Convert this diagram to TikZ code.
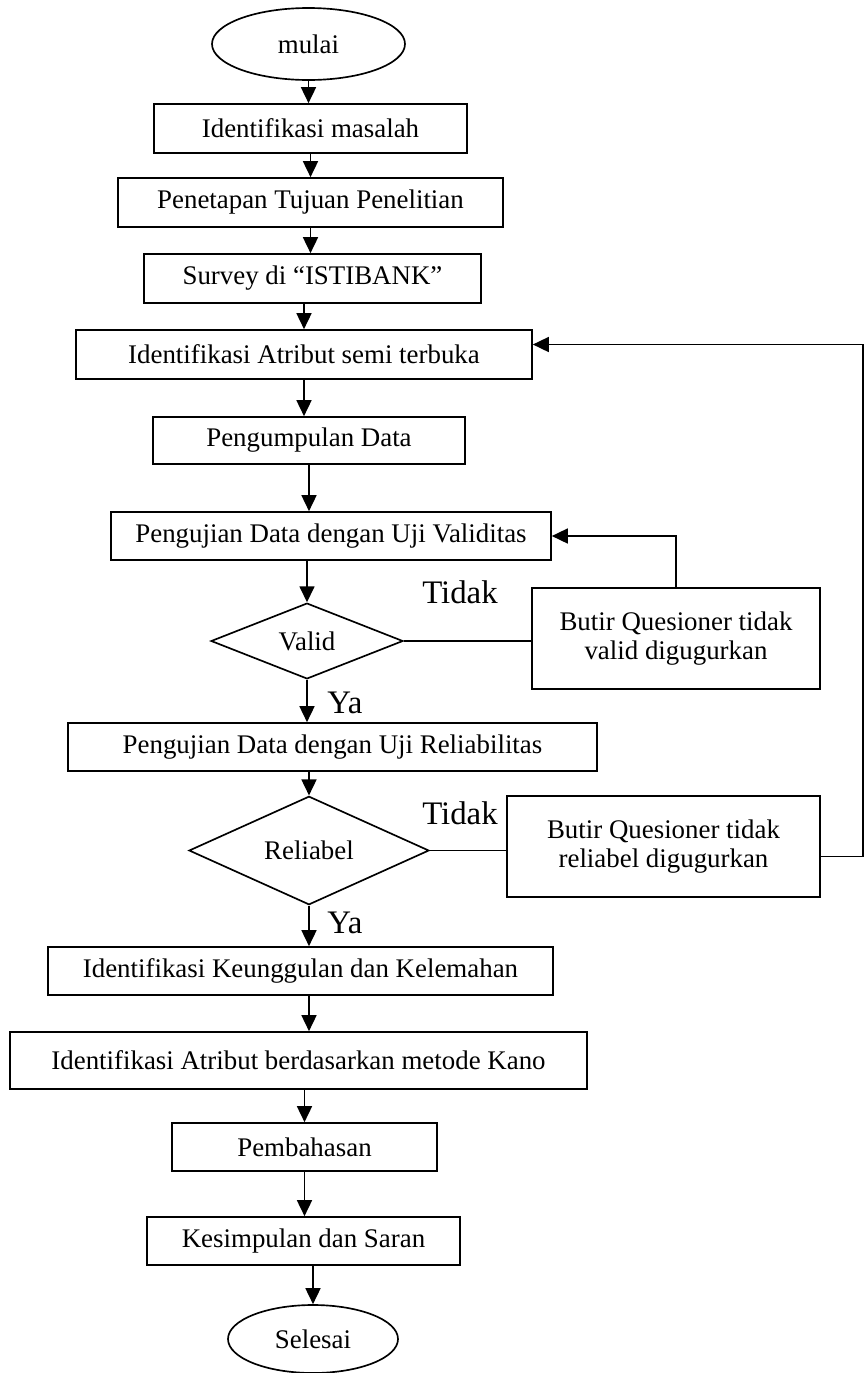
\documentclass[tikz,border=0pt]{standalone}
\usepackage{fontspec}
\setmainfont{Liberation Serif}
\usetikzlibrary{shapes.geometric,arrows.meta}
\begin{document}
\begin{tikzpicture}[x=0.02cm, y=-0.02cm, line width=0.95pt,
    box/.style={draw, rectangle, inner sep=0pt, align=center, font=\fontsize{15.3}{17}\selectfont},
    term/.style={draw, ellipse, inner sep=0pt, font=\fontsize{15.3}{17}\selectfont},
    cond/.style={draw, diamond, inner sep=0pt, font=\fontsize{15.3}{17}\selectfont},
    lbl/.style={inner sep=0pt, font=\fontsize{18.7}{21}\selectfont},
    arr/.style={-{Triangle[length=0.32cm, width=0.3cm]}}]
    \useasboundingbox (0,0) rectangle (864,1373);
    % Main flow
    \node[term, minimum width=193*0.02cm, minimum height=72*0.02cm] (mulai) at (308.5,44) {mulai};
    \node[box, minimum width=313*0.02cm, minimum height=49*0.02cm] (masalah) at (310.5,128.5) {Identifikasi masalah};
    \node[box, minimum width=385*0.02cm, minimum height=49*0.02cm] (tujuan) at (310.5,202.5) {Penetapan Tujuan Penelitian};
    \node[box, minimum width=337*0.02cm, minimum height=49*0.02cm] (survey) at (312.5,278.5) {Survey di “ISTIBANK”};
    \node[box, minimum width=456*0.02cm, minimum height=49*0.02cm] (atribut) at (304,354.5) {Identifikasi Atribut semi terbuka};
    \node[box, minimum width=312*0.02cm, minimum height=47*0.02cm] (kumpul) at (309,440.5) {Pengumpulan Data};
    \node[box, minimum width=440*0.02cm, minimum height=48*0.02cm] (ujival) at (331,536) {Pengujian Data dengan Uji Validitas};
    \node[cond, minimum width=192*0.02cm, minimum height=72*0.02cm] (valid) at (307,641) {Valid};
    \node[box, minimum width=529*0.02cm, minimum height=48*0.02cm] (ujirel) at (332.5,747) {Pengujian Data dengan Uji Reliabilitas};
    \node[cond, minimum width=240*0.02cm, minimum height=95*0.02cm] (reliabel) at (309,850.5) {Reliabel};
    \node[box, minimum width=505*0.02cm, minimum height=48*0.02cm] (keunggulan) at (300.5,971) {Identifikasi Keunggulan dan Kelemahan};
    \node[box, minimum width=577*0.02cm, minimum height=57*0.02cm] (kano) at (298.5,1060.5) {Identifikasi Atribut berdasarkan metode Kano};
    \node[box, minimum width=265*0.02cm, minimum height=48*0.02cm] (bahas) at (304.5,1147) {Pembahasan};
    \node[box, minimum width=313*0.02cm, minimum height=48*0.02cm] (simpul) at (303.5,1241) {Kesimpulan dan Saran};
    \node[term, minimum width=170*0.02cm, minimum height=68*0.02cm] (selesai) at (313,1339) {Selesai};
    % Rejected items
    \node[box, minimum width=288*0.02cm, minimum height=101*0.02cm] (gugurval) at (676,638.5) {Butir Quesioner tidak\\valid digugurkan};
    \node[box, minimum width=313*0.02cm, minimum height=101*0.02cm] (gugurrel) at (663.5,846.5) {Butir Quesioner tidak\\reliabel digugurkan};
    % Branch labels
    \node[lbl] (tidakval) at (460,592) {Tidak};
    \node[lbl] (tidakrel) at (460,813) {Tidak};
    \node[lbl] (yaval) at (345,703) {Ya};
    \node[lbl] (yarel) at (345,923) {Ya};
    % Arrows down the main flow
    \draw[arr] (mulai) -- (mulai |- masalah.north);
    \draw[arr] (masalah) -- (masalah |- tujuan.north);
    \draw[arr] (tujuan) -- (tujuan |- survey.north);
    \draw[arr] (atribut |- survey.south) -- (atribut.north);
    \draw[arr] (atribut) -- (atribut |- kumpul.north);
    \draw[arr] (kumpul) -- (kumpul |- ujival.north);
    \draw[arr] (valid |- ujival.south) -- (valid.north);
    \draw[arr] (valid.south) -- (valid.south |- ujirel.north);
    \draw[arr] (reliabel |- ujirel.south) -- (reliabel.north);
    \draw[arr] (reliabel.south) -- (reliabel.south |- keunggulan.north);
    \draw[arr] (reliabel |- keunggulan.south) -- (reliabel |- kano.north);
    \draw[arr] (bahas |- kano.south) -- (bahas.north);
    \draw[arr] (bahas) -- (bahas |- simpul.north);
    \draw[arr] (selesai |- simpul.south) -- (selesai.north);
    % Loops back
    \draw (valid.east) -- (valid.east -| gugurval.west);
    \draw[arr] (gugurval.north) |- (ujival.east);
    \draw (reliabel.east) -- (reliabel.east -| gugurrel.west);
    \draw[arr] ([yshift=-0.2cm]gugurrel.east) -- ++(42,0) |- ([yshift=0.2cm]atribut.east);
  \end{tikzpicture}
\end{document}
